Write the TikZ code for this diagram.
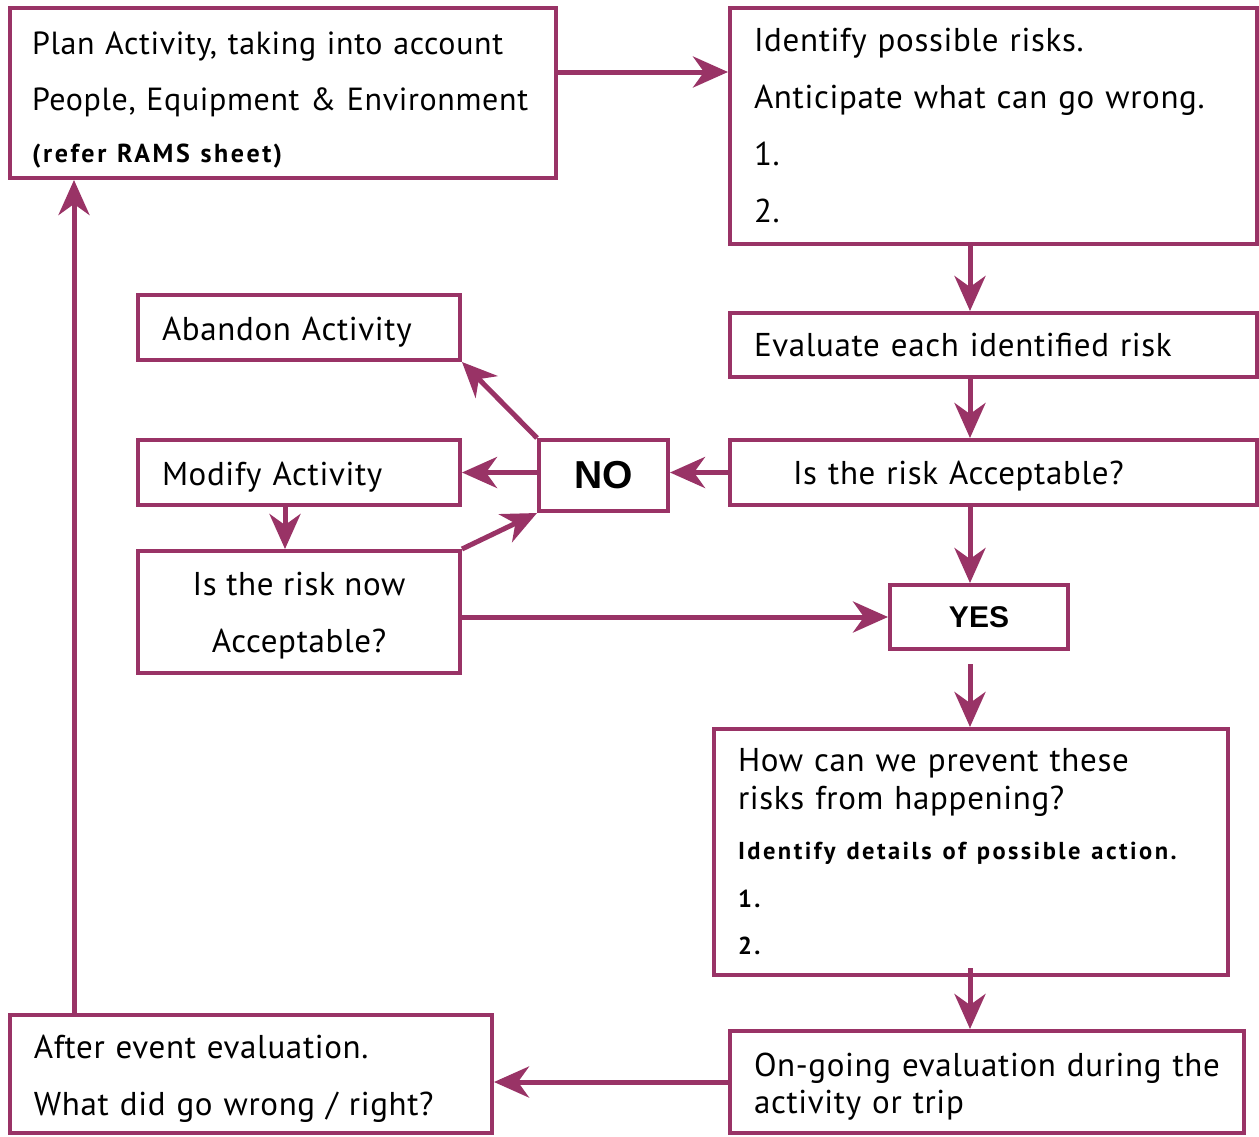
\documentclass[tikz,border=0pt]{standalone}
\usepackage{fontspec}
\setmainfont{PT Sans}[LetterSpace=2]
\newfontfamily\widebold{PT Sans}[LetterSpace=10]
\newfontfamily\headfont{Liberation Sans}
\usetikzlibrary{arrows.meta}
\definecolor{plum}{RGB}{153,51,102}
\tikzset{
	box/.style={draw=plum,line width=4pt,rectangle,inner sep=0,align=left,
		font=\fontsize{33}{57}\selectfont},
	answer/.style={box,align=center},
	arr/.style={draw=plum,line width=5pt,-{Stealth[length=35pt,width=31pt,inset=11pt]}}
}
\newcommand{\smallbold}{\fontsize{24.5}{24.5}\selectfont\widebold\bfseries}
\begin{document}
\begin{tikzpicture}[x=1pt,y=-1pt]
	\useasboundingbox (0,0) rectangle (1259,1136);
	\coordinate (spine) at (970,0);
	\coordinate (back) at (74,0);
	% boxes
	\node[box,minimum width=546,minimum height=170,text width=502,font=\fontsize{32}{56}\selectfont] (plan) at (283,93)
		{\rule{0pt}{36pt}Plan Activity, taking into account\\People, Equipment \& Environment\\[-4pt]{\smallbold\fontsize{26}{26}\selectfont (refer RAMS sheet)}};
	\node[box,minimum width=527,minimum height=236,text width=479] (identify) at (993.5,126)
		{Identify possible risks.\\Anticipate what can go wrong.\\1.\\2.};
	\node[box,minimum width=527,minimum height=64,text width=479] (evaluate) at (993.5,345)
		{Evaluate each identified risk};
	\node[box,minimum width=527,minimum height=65,text width=401] (accept) at (993.5,472.5)
		{\rule{0pt}{30pt}Is the risk Acceptable?};
	\node[answer,minimum width=129,minimum height=71,font=\fontsize{39}{39}\selectfont\headfont\bfseries] (no) at (603.5,475.5) {NO};
	\node[box,minimum width=322,minimum height=65,text width=274] (abandon) at (299,327.5)
		{\rule{0pt}{32pt}Abandon Activity};
	\node[box,minimum width=322,minimum height=65,text width=274] (modify) at (299,472.5)
		{\rule{0pt}{32pt}Modify Activity};
	\node[answer,minimum width=322,minimum height=122] (nowacc) at (299,612)
		{\rule{0pt}{30pt}Is the risk now\\Acceptable?};
	\node[answer,minimum width=178,minimum height=64,font=\fontsize{30}{30}\selectfont\headfont\bfseries] (yes) at (979,617) {YES};
	\node[box,minimum width=514,minimum height=246,text width=466,font=\fontsize{33}{38}\selectfont] (prevent) at (971,852)
		{How can we prevent these\\risks from happening?\\[12pt]
		{\smallbold Identify details of possible action.}\\[9.5pt]{\smallbold 1.}\\[9.5pt]{\smallbold 2.}};
	\node[box,minimum width=514,minimum height=102,text width=466,font=\fontsize{33}{37}\selectfont] (ongoing) at (987,1082)
		{\rule{0pt}{32pt}On-going evaluation during the\\activity or trip};
	\node[box,minimum width=482,minimum height=118,text width=434] (after) at (251,1074)
		{\rule{0pt}{32pt}After event evaluation.\\What did go wrong / right?};
	% connectors
	\draw[arr] ([yshift=21pt]plan.east) -- ([yshift=21pt]plan.east -| identify.west);
	\draw[arr] (identify.south -| spine) -- (evaluate.north -| spine);
	\draw[arr] (evaluate.south -| spine) -- (accept.north -| spine);
	\draw[arr] (accept.west) -- (accept.west -| no.east);
	\draw[arr] (no.west |- modify.east) -- (modify.east);
	\draw[arr] (no.north west) -- (abandon.south east);
	\draw[arr] (nowacc.north east) -- (no.south west);
	\draw[arr] ([xshift=-14pt]modify.south) -- ([xshift=-14pt]nowacc.north);
	\draw[arr] (nowacc.east |- yes.west) -- (yes.west);
	\draw[arr] (accept.south -| spine) -- (yes.north -| spine);
	\draw[arr] ([yshift=-13pt]yes.south -| spine) -- (prevent.north -| spine);
	\draw[arr] ([yshift=9pt]prevent.south -| spine) -- (ongoing.north -| spine);
	\draw[arr] (ongoing.west) -- (ongoing.west -| after.east);
	\draw[arr] (after.north -| back) -- (plan.south -| back);
\end{tikzpicture}
\end{document}
